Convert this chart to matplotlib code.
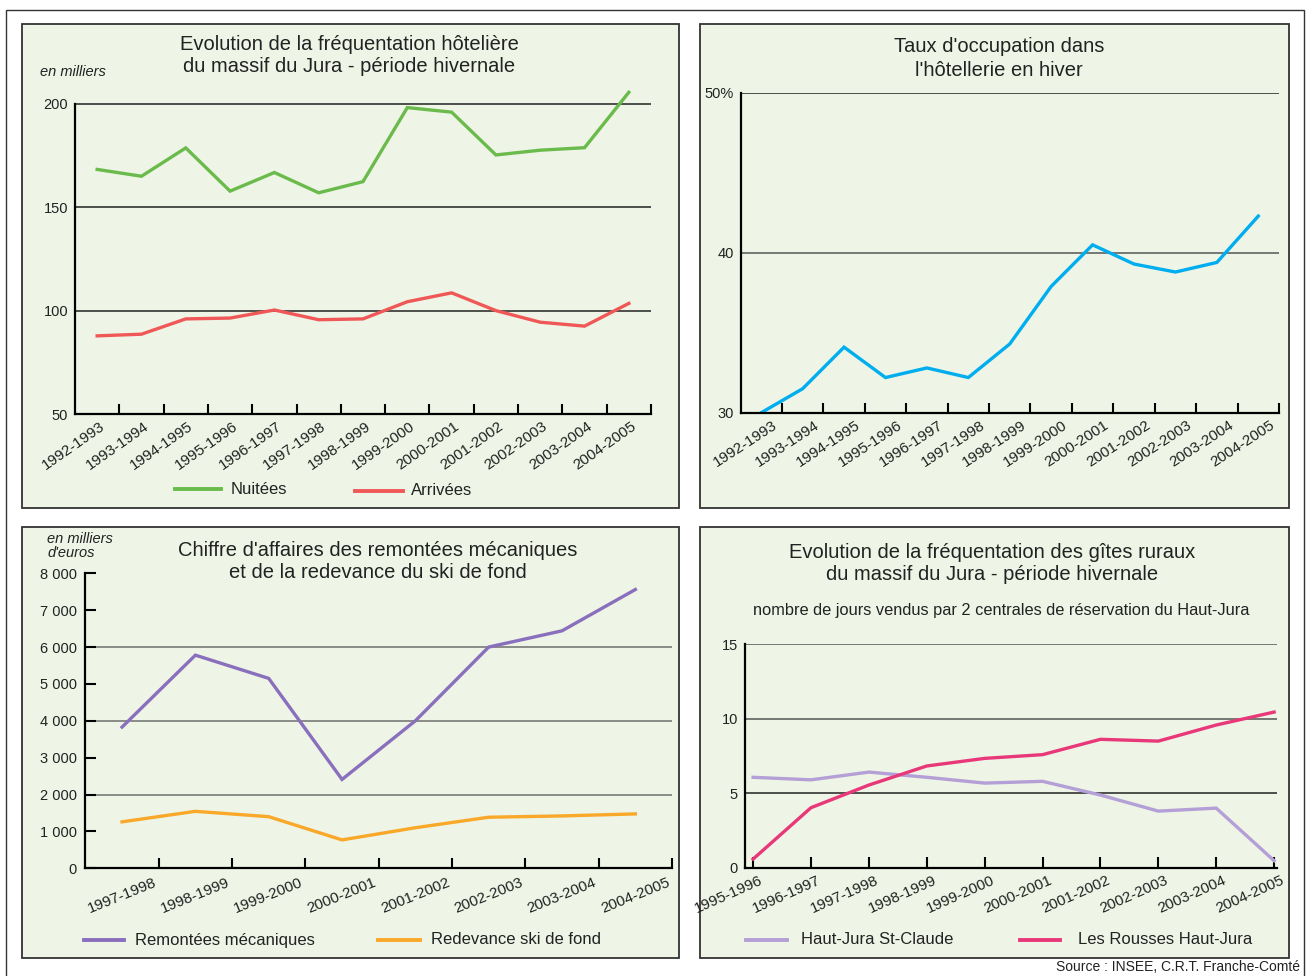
import matplotlib
matplotlib.use("Agg")
import matplotlib.pyplot as plt
from matplotlib.patches import Rectangle
from matplotlib.lines import Line2D
from matplotlib.transforms import ScaledTranslation

plt.rcParams['font.family'] = ['Liberation Sans', 'DejaVu Sans']

W, H = 1309, 976

# DATA
saisons_hotel = ['1992-1993', '1993-1994', '1994-1995', '1995-1996', '1996-1997',
                 '1997-1998', '1998-1999', '1999-2000', '2000-2001', '2001-2002',
                 '2002-2003', '2003-2004', '2004-2005']
nuitees = [168.3, 165.0, 178.7, 157.8, 166.8, 157.0, 162.4, 198.2, 196.0, 175.3, 177.6, 178.8, 205.6]
arrivees = [87.8, 88.6, 96.0, 96.4, 100.3, 95.6, 96.0, 104.3, 108.6, 100.0, 94.4, 92.5, 103.5]
taux_occupation = [30.0, 31.5, 34.1, 32.2, 32.8, 32.2, 34.3, 37.9, 40.5, 39.3, 38.8, 39.4, 42.3]

saisons_ca = ['1997-1998', '1998-1999', '1999-2000', '2000-2001', '2001-2002',
              '2002-2003', '2003-2004', '2004-2005']
remontees = [3830, 5780, 5150, 2410, 4000, 6000, 6440, 7560]
redevance = [1260, 1545, 1400, 770, 1100, 1385, 1420, 1475]

saisons_gites = ['1995-1996', '1996-1997', '1997-1998', '1998-1999', '1999-2000',
                 '2000-2001', '2001-2002', '2002-2003', '2003-2004', '2004-2005']
st_claude = [6.07, 5.9, 6.42, 6.07, 5.68, 5.8, 4.88, 3.8, 4.0, 0.47]
les_rousses = [0.58, 4.03, 5.55, 6.83, 7.34, 7.59, 8.62, 8.5, 9.58, 10.45]

BG = '#eef5e6'
EDGE = '#333333'
GREEN, RED, BLUE = '#6abb4c', '#f05858', '#00aeef'
PURPLE, ORANGE = '#8a6fbd', '#f9a82a'
LILAC, PINK = '#b49fd6', '#e8387a'
LW = 2.4
TXT = '#222222'

fig = plt.figure(figsize=(W / 100, H / 100), dpi=100)
fig.patch.set_facecolor('white')


def fx(x):
    return x / W


def fy(y):
    return 1 - y / H


def box(x0, y0, x1, y1):
    return [fx(x0), fy(y1), (x1 - x0) / W, (y1 - y0) / H]


def ftext(x, y, s, **kw):
    fig.text(fx(x), fy(y), s, **kw)


def leg(x0, x1, y, color, label, tx):
    fig.add_artist(Line2D([fx(x0), fx(x1)], [fy(y), fy(y)], color=color, lw=LW + 0.4,
                          transform=fig.transFigure))
    ftext(tx, y, label, fontsize=12, va='center', ha='left', color=TXT)


# outer frame + panels (drawn below the axes)
fig.add_artist(Rectangle((fx(5.5), fy(1000)), 1298 / W, 990 / H, transform=fig.transFigure,
                         facecolor='none', edgecolor=EDGE, lw=1.0, zorder=-10))
for (x0, y0, x1, y1) in [(22, 24, 679, 508), (700, 24, 1289, 508),
                         (22, 527, 679, 958), (700, 527, 1289, 958)]:
    fig.add_artist(Rectangle((fx(x0), fy(y1)), (x1 - x0) / W, (y1 - y0) / H,
                             transform=fig.transFigure, facecolor=BG, edgecolor=EDGE,
                             lw=1.3, zorder=-10))


def style(ax):
    ax.set_facecolor('none')
    ax.spines['top'].set_visible(False)
    ax.spines['right'].set_visible(False)
    ax.spines['left'].set_linewidth(1.6)
    ax.spines['bottom'].set_linewidth(1.6)
    ax.tick_params(axis='y', length=0, pad=5, labelsize=10.5, labelcolor=TXT)


def shift_labels(ax, dx, dy):
    off = ScaledTranslation(dx / 100, dy / 100, fig.dpi_scale_trans)
    for lab in ax.get_xticklabels(minor=True):
        lab.set_transform(lab.get_transform() + off)


def boundary_ticks(ax, labels, rot, size, ha='right'):
    n = len(labels)
    ax.set_xticks([i + 0.5 for i in range(n)])
    ax.set_xticklabels([])
    ax.set_xticks(range(n), minor=True)
    ax.set_xticklabels(labels, minor=True, rotation=rot, ha=ha, fontsize=size, color=TXT)
    ax.tick_params(axis='x', which='major', direction='in', length=7, width=1.5)
    ax.tick_params(axis='x', which='minor', length=0, pad=4)


# ---- Panel 1 : fréquentation hôtelière
ax1 = fig.add_axes(box(75, 83.2, 651, 414))
style(ax1)
x = range(len(saisons_hotel))
ax1.plot(x, nuitees, color=GREEN, lw=LW, solid_joinstyle='miter')
ax1.plot(x, arrivees, color=RED, lw=LW, solid_joinstyle='miter')
ax1.set_xlim(-0.5, 12.5)
ax1.set_ylim(50, 210)
ax1.spines['left'].set_bounds(50, 200)
ax1.set_yticks([50, 100, 150, 200])
for v in [100, 150, 200]:
    ax1.axhline(v, color=TXT, lw=1.1, zorder=0)
boundary_ticks(ax1, saisons_hotel, 35, 11)
shift_labels(ax1, 10, 0)
ftext(349, 45, "Evolution de la fréquentation hôtelière", fontsize=14.5, ha='center', va='center', color=TXT)
ftext(349, 67, "du massif du Jura - période hivernale", fontsize=14.5, ha='center', va='center', color=TXT)
ftext(40, 72, "en milliers", fontsize=10.5, style='italic', ha='left', va='center', color=TXT)
leg(175, 221, 489, GREEN, "Nuitées", 231)
leg(355, 403, 491, RED, "Arrivées", 411)

# ---- Panel 2 : taux d'occupation
ax2 = fig.add_axes(box(740.5, 93, 1279, 412.7))
style(ax2)
ax2.plot(range(len(saisons_hotel)), taux_occupation, color=BLUE, lw=LW, solid_joinstyle='miter')
ax2.set_xlim(-0.5, 12.5)
ax2.set_ylim(30, 50)
ax2.set_yticks([30, 40, 50])
ax2.set_yticklabels(['30', '40', '50%'])
ax2.axhline(50, color=TXT, lw=1.1, zorder=0)
ax2.axhline(40, color='#555555', lw=1.1, zorder=0)
boundary_ticks(ax2, saisons_hotel, 33, 11)
shift_labels(ax2, 19, 0)
ftext(999, 47, "Taux d'occupation dans", fontsize=14.5, ha='center', va='center', color=TXT)
ftext(999, 70, "l'hôtellerie en hiver", fontsize=14.5, ha='center', va='center', color=TXT)

# ---- Panel 3 : chiffre d'affaires
ax3 = fig.add_axes(box(85.4, 573.3, 672, 868.3))
style(ax3)
x3 = range(len(saisons_ca))
ax3.plot(x3, remontees, color=PURPLE, lw=LW, solid_joinstyle='miter')
ax3.plot(x3, redevance, color=ORANGE, lw=LW, solid_joinstyle='miter')
ax3.set_xlim(-0.5, 7.5)
ax3.set_ylim(0, 8000)
ax3.set_yticks(range(0, 8001, 1000))
ax3.set_yticklabels(['0', '1 000', '2 000', '3 000', '4 000', '5 000', '6 000', '7 000', '8 000'])
ax3.tick_params(axis='y', direction='in', length=8, width=1.5, pad=6)
for v in [2000, 4000, 6000]:
    ax3.axhline(v, color='#6f6f6f', lw=1.1, zorder=0)
boundary_ticks(ax3, saisons_ca, 22, 11, ha='center')
shift_labels(ax3, 0, -2)
ftext(378, 550, "Chiffre d'affaires des remontées mécaniques", fontsize=14.5, ha='center', va='center', color=TXT)
ftext(378, 572, "et de la redevance du ski de fond", fontsize=14.5, ha='center', va='center', color=TXT)
ftext(47, 539, "en milliers", fontsize=10.5, style='italic', ha='left', va='center', color=TXT)
ftext(47, 553, "d'euros", fontsize=10.5, style='italic', ha='left', va='center', color=TXT)
leg(84, 124, 940, PURPLE, "Remontées mécaniques", 135)
leg(378, 420, 940, ORANGE, "Redevance ski de fond", 431)

# ---- Panel 4 : gîtes ruraux
ax4 = fig.add_axes(box(745, 644.3, 1277, 867.7))
style(ax4)
x4 = range(len(saisons_gites))
ax4.plot(x4, st_claude, color=LILAC, lw=LW, solid_joinstyle='miter')
ax4.plot(x4, les_rousses, color=PINK, lw=LW, solid_joinstyle='miter')
ax4.set_xlim(-0.14, 9.05)
ax4.set_ylim(0, 15)
ax4.set_yticks([0, 5, 10, 15])
ax4.axhline(15, color='#555555', lw=1.1, zorder=0)
ax4.axhline(10, color='#555555', lw=1.1, zorder=0)
ax4.axhline(5, color=TXT, lw=1.1, zorder=0)
ax4.set_xticks(list(x4))
ax4.set_xticklabels(saisons_gites, rotation=24, ha='right', fontsize=11, color=TXT)
ax4.tick_params(axis='x', direction='in', length=8, width=1.5, pad=4)
off4 = ScaledTranslation(0.12, 0, fig.dpi_scale_trans)
for lab in ax4.get_xticklabels():
    lab.set_transform(lab.get_transform() + off4)
ftext(992, 553, "Evolution de la fréquentation des gîtes ruraux", fontsize=14.5, ha='center', va='center', color=TXT)
ftext(992, 574, "du massif du Jura - période hivernale", fontsize=14.5, ha='center', va='center', color=TXT)
ftext(1001, 610, "nombre de jours vendus par 2 centrales de réservation du Haut-Jura",
      fontsize=11.8, ha='center', va='center', color=TXT)
leg(746, 787, 940, LILAC, "Haut-Jura St-Claude", 801)
leg(1020, 1060, 940, PINK, "Les Rousses Haut-Jura", 1078)

ftext(1300, 974, "Source : INSEE, C.R.T. Franche-Comté", fontsize=10, ha='right', va='bottom', color=TXT)

fig.savefig('out.png', dpi=100, facecolor='white')
